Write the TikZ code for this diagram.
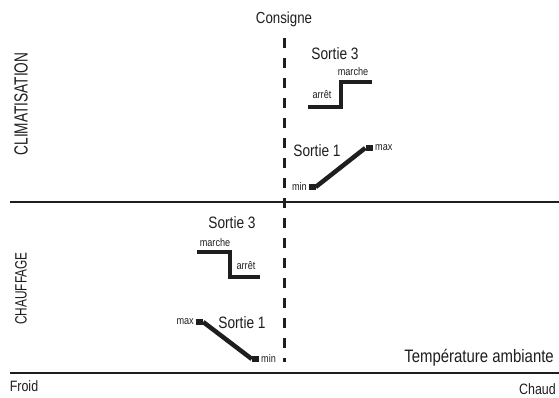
\documentclass[tikz,border=0pt]{standalone}
\usepackage{fontspec}
\setmainfont{Liberation Sans}[FakeStretch=0.83]
\newfontfamily\capsfont{Liberation Sans}[FakeStretch=0.72]
\definecolor{ink}{HTML}{1E1E1E}
\begin{document}
\begin{tikzpicture}[x=1pt,y=-1pt,
  txt/.style={inner sep=0pt,text=ink},
  big/.style={txt,font=\fontsize{16.5}{19}\selectfont},
  small/.style={txt,font=\fontsize{11}{12}\selectfont},
  sidelabel/.style={txt,rotate=90},
  axisline/.style={draw=ink,line width=2.8pt},
  curve/.style={draw=ink,line width=4.5pt,line join=miter},
  endmark/.style={fill=ink,draw=none,minimum width=7pt,minimum height=6pt,inner sep=0pt},
  setline/.style={draw=ink,line width=3pt,dash pattern=on 10pt off 10pt}]
\useasboundingbox (0,0) rectangle (559,398);

% axes
\coordinate (topL) at (10,202);
\coordinate (topR) at (559,202);
\coordinate (botL) at (10,373);
\coordinate (botR) at (559,373);
\draw[axisline] (topL) -- (topR);
\draw[axisline] (botL) -- (botR);

% setpoint
\node[big,font=\fontsize{16}{19}\selectfont] (consigne) at (284,19) {Consigne};
\coordinate (setTop) at (284,38);
\coordinate (setBot) at (284,362);
\draw[setline] (setTop) -- (setBot);

% side labels
\node[sidelabel,font=\capsfont\fontsize{19}{21}\selectfont] (clim) at (21,104) {CLIMATISATION};
\node[sidelabel,font=\capsfont\fontsize{16.4}{19}\selectfont] (chauf) at (21,288.5) {CHAUFFAGE};

% cooling output 3
\node[big] (cs3) at (335,54) {Sortie 3};
\coordinate (c3a) at (308,107);
\coordinate (c3b) at (341,107);
\coordinate (c3c) at (341,82);
\coordinate (c3d) at (372,82);
\draw[curve] (c3a) -- (c3b) -- (c3c) -- (c3d);
\node[small] (c3off) at (322,95) {arrêt};
\node[small] (c3on) at (353,72) {marche};

% cooling output 1
\node[big] (cs1) at (317,151) {Sortie 1};
\node[endmark] (c1min) at (312,187) {};
\node[endmark] (c1max) at (369,148) {};
\draw[curve] (c1min.east) -- (c1max.west);
\node[small,anchor=east] (c1minl) at (307,187) {min};
\node[small,anchor=west] (c1maxl) at (375,148) {max};

% heating output 3
\node[big] (hs3) at (232,223) {Sortie 3};
\coordinate (h3a) at (197,252);
\coordinate (h3b) at (230,252);
\coordinate (h3c) at (230,277);
\coordinate (h3d) at (260,277);
\draw[curve] (h3a) -- (h3b) -- (h3c) -- (h3d);
\node[small] (h3on) at (215,243) {marche};
\node[small] (h3off) at (246,266) {arrêt};

% heating output 1
\node[big] (hs1) at (242,323) {Sortie 1};
\node[endmark] (h1max) at (199.5,322) {};
\node[endmark] (h1min) at (255.5,359) {};
\draw[curve] (h1max.east) -- (h1min.west);
\node[small,anchor=east] (h1maxl) at (194,322) {max};
\node[small,anchor=west] (h1minl) at (261,359) {min};

% axis labels
\node[txt,font=\fontsize{18}{21}\selectfont,anchor=east] (temp) at (554,358) {Température ambiante};
\node[txt,font=\fontsize{15}{18}\selectfont] (froid) at (24,386) {Froid};
\node[txt,font=\fontsize{15}{18}\selectfont,anchor=east] (chaud) at (556,389.5) {Chaud};
\end{tikzpicture}
\end{document}
